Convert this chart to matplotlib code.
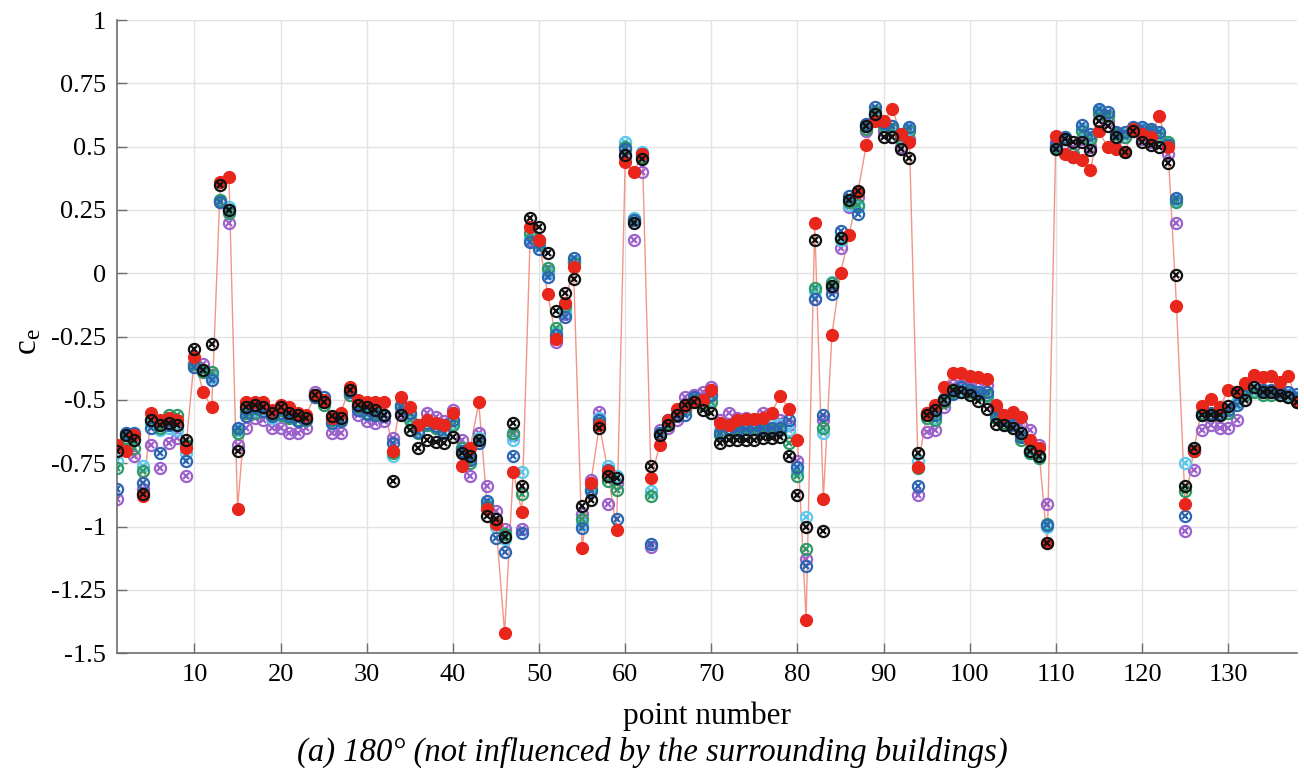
import matplotlib
matplotlib.use("Agg")
import matplotlib.pyplot as plt
import numpy as np

points = list(range(1, 139))

red = [-0.68,-0.70,-0.64,-0.88,-0.55,-0.58,-0.57,-0.58,-0.69,-0.33,
       -0.47,-0.53,0.36,0.38,-0.93,-0.51,-0.51,-0.51,-0.54,-0.52,
       -0.53,-0.55,-0.56,-0.48,-0.50,-0.57,-0.55,-0.45,-0.50,-0.51,
       -0.51,-0.51,-0.70,-0.49,-0.53,-0.60,-0.58,-0.59,-0.60,-0.55,
       -0.76,-0.69,-0.51,-0.93,-0.99,-1.42,-0.783,-0.943,0.182,0.13,
       -0.082,-0.26,-0.118,0.026,-1.083,-0.83,-0.60,-0.78,-1.013,0.44,
       0.40,0.47,-0.81,-0.68,-0.58,-0.537,-0.524,-0.507,-0.50,-0.46,
       -0.59,-0.60,-0.58,-0.575,-0.575,-0.57,-0.55,-0.483,-0.535,-0.658,
       -1.37,0.197,-0.89,-0.243,0.0,0.15,0.32,0.508,0.60,0.60,
       0.649,0.55,0.52,-0.766,-0.55,-0.52,-0.45,-0.395,-0.395,-0.404,
       -0.41,-0.418,-0.52,-0.56,-0.546,-0.567,-0.66,-0.69,-1.066,0.542,
       0.472,0.458,0.448,0.409,0.56,0.50,0.49,0.48,0.57,0.55,
       0.54,0.62,0.50,-0.128,-0.91,-0.70,-0.525,-0.497,-0.53,-0.462,
       -0.47,-0.434,-0.40,-0.41,-0.405,-0.43,-0.405,-0.51]

black = [-0.70,-0.64,-0.66,-0.87,-0.58,-0.60,-0.59,-0.60,-0.66,-0.30,
         -0.38,-0.28,0.35,0.25,-0.70,-0.53,-0.52,-0.53,-0.55,-0.53,
         -0.55,-0.56,-0.57,-0.48,-0.51,-0.565,-0.57,-0.46,-0.52,-0.53,
         -0.54,-0.56,-0.82,-0.56,-0.62,-0.69,-0.66,-0.665,-0.67,-0.645,
         -0.71,-0.72,-0.66,-0.96,-0.97,-1.04,-0.592,-0.84,0.217,0.184,
         0.079,-0.149,-0.076,-0.024,-0.92,-0.895,-0.612,-0.80,-0.81,0.467,
         0.20,0.45,-0.76,-0.64,-0.60,-0.56,-0.52,-0.51,-0.54,-0.55,
         -0.67,-0.66,-0.66,-0.66,-0.66,-0.65,-0.65,-0.647,-0.72,-0.877,
         -1.002,0.13,-1.016,-0.05,0.14,0.29,0.326,0.58,0.63,0.537,
         0.54,0.49,0.454,-0.71,-0.56,-0.54,-0.50,-0.46,-0.47,-0.48,
         -0.505,-0.535,-0.595,-0.60,-0.61,-0.63,-0.70,-0.72,-1.066,0.49,
         0.53,0.52,0.52,0.486,0.60,0.58,0.54,0.48,0.56,0.52,
         0.507,0.50,0.434,-0.006,-0.84,-0.69,-0.56,-0.56,-0.56,-0.525,
         -0.47,-0.50,-0.45,-0.47,-0.47,-0.48,-0.49,-0.51]

blue = [-0.85,-0.63,-0.63,-0.83,-0.61,-0.71,-0.60,-0.60,-0.74,-0.37,
        -0.38,-0.42,0.28,0.25,-0.61,-0.565,-0.53,-0.545,-0.565,-0.55,
        -0.565,-0.585,-0.575,-0.49,-0.49,-0.59,-0.585,-0.47,-0.54,-0.555,
        -0.56,-0.565,-0.67,-0.53,-0.55,-0.625,-0.59,-0.605,-0.63,-0.58,
        -0.70,-0.737,-0.67,-0.90,-1.046,-1.10,-0.72,-1.026,0.125,0.095,
        -0.013,-0.243,-0.171,0.059,-1.007,-0.86,-0.58,-0.776,-0.97,0.49,
        0.21,0.47,-1.07,-0.63,-0.58,-0.565,-0.56,-0.49,-0.50,-0.48,
        -0.63,-0.61,-0.62,-0.615,-0.615,-0.61,-0.61,-0.61,-0.58,-0.765,
        -1.155,-0.10,-0.56,-0.08,0.168,0.307,0.234,0.59,0.655,0.595,
        0.58,0.55,0.576,-0.84,-0.55,-0.56,-0.496,-0.476,-0.45,-0.46,
        -0.47,-0.47,-0.555,-0.58,-0.60,-0.645,-0.70,-0.72,-0.996,0.507,
        0.54,0.458,0.584,0.55,0.647,0.636,0.556,0.556,0.577,0.577,
        0.57,0.556,0.507,0.296,-0.96,-0.70,-0.56,-0.55,-0.55,-0.54,
        -0.52,-0.46,-0.45,-0.46,-0.46,-0.47,-0.47,-0.476]

green = [-0.77,-0.65,-0.69,-0.78,-0.58,-0.61,-0.56,-0.56,-0.68,-0.36,
         -0.39,-0.39,0.29,0.24,-0.63,-0.55,-0.55,-0.53,-0.56,-0.56,
         -0.57,-0.58,-0.58,-0.48,-0.52,-0.58,-0.58,-0.48,-0.53,-0.55,
         -0.55,-0.56,-0.71,-0.52,-0.58,-0.63,-0.60,-0.61,-0.63,-0.60,
         -0.69,-0.75,-0.66,-0.92,-0.987,-1.03,-0.63,-0.87,0.16,0.12,
         0.02,-0.217,-0.13,0.04,-0.97,-0.85,-0.59,-0.82,-0.855,0.50,
         0.21,0.46,-0.88,-0.64,-0.59,-0.56,-0.54,-0.50,-0.52,-0.51,
         -0.64,-0.62,-0.63,-0.63,-0.63,-0.62,-0.62,-0.62,-0.67,-0.80,
         -1.09,-0.06,-0.61,-0.04,0.14,0.28,0.27,0.57,0.64,0.58,
         0.57,0.53,0.56,-0.77,-0.57,-0.58,-0.51,-0.47,-0.47,-0.47,
         -0.48,-0.48,-0.57,-0.59,-0.61,-0.66,-0.71,-0.73,-0.99,0.50,
         0.53,0.47,0.56,0.53,0.63,0.62,0.55,0.54,0.57,0.56,
         0.56,0.54,0.52,0.28,-0.86,-0.70,-0.55,-0.56,-0.56,-0.55,
         -0.52,-0.48,-0.47,-0.48,-0.48,-0.48,-0.49,-0.50]

cyan = [-0.74,-0.66,-0.65,-0.76,-0.59,-0.62,-0.61,-0.62,-0.71,-0.37,
        -0.39,-0.41,0.29,0.26,-0.62,-0.54,-0.54,-0.54,-0.57,-0.55,
        -0.56,-0.58,-0.57,-0.49,-0.50,-0.59,-0.58,-0.47,-0.53,-0.54,
        -0.55,-0.56,-0.72,-0.52,-0.57,-0.62,-0.60,-0.61,-0.62,-0.59,
        -0.69,-0.73,-0.65,-0.91,-1.00,-1.05,-0.66,-0.783,0.14,0.11,
        0.0,-0.23,-0.15,0.05,-0.99,-0.84,-0.57,-0.76,-0.80,0.52,
        0.22,0.48,-0.86,-0.63,-0.58,-0.56,-0.54,-0.50,-0.51,-0.50,
        -0.62,-0.61,-0.61,-0.61,-0.61,-0.60,-0.60,-0.60,-0.62,-0.78,
        -0.963,-0.07,-0.63,-0.036,0.13,0.27,0.26,0.58,0.63,0.59,
        0.58,0.54,0.57,-0.74,-0.56,-0.57,-0.50,-0.46,-0.46,-0.48,
        -0.47,-0.49,-0.56,-0.60,-0.60,-0.64,-0.71,-0.72,-1.00,0.49,
        0.54,0.46,0.57,0.54,0.64,0.62,0.55,0.55,0.57,0.57,
        0.56,0.55,0.51,0.29,-0.75,-0.69,-0.56,-0.56,-0.55,-0.54,
        -0.51,-0.47,-0.46,-0.47,-0.47,-0.48,-0.48,-0.49]

purple = [-0.89,-0.66,-0.72,-0.85,-0.68,-0.77,-0.67,-0.65,-0.80,-0.36,
          -0.36,-0.40,0.28,0.20,-0.68,-0.61,-0.57,-0.58,-0.61,-0.61,
          -0.63,-0.63,-0.61,-0.47,-0.51,-0.63,-0.63,-0.48,-0.56,-0.585,
          -0.59,-0.585,-0.65,-0.55,-0.56,-0.60,-0.55,-0.566,-0.585,-0.54,
          -0.66,-0.80,-0.63,-0.84,-0.937,-1.01,-0.64,-1.01,0.13,0.13,
          0.01,-0.27,-0.16,0.045,-0.95,-0.816,-0.546,-0.91,-0.83,0.46,
          0.13,0.40,-1.08,-0.62,-0.61,-0.58,-0.49,-0.48,-0.47,-0.45,
          -0.58,-0.55,-0.57,-0.57,-0.58,-0.55,-0.555,-0.58,-0.60,-0.74,
          -1.13,-0.10,-0.58,-0.06,0.10,0.26,0.30,0.56,0.62,0.56,
          0.54,0.50,0.53,-0.877,-0.628,-0.62,-0.53,-0.44,-0.44,-0.44,
          -0.43,-0.44,-0.53,-0.57,-0.58,-0.60,-0.62,-0.68,-0.91,0.52,
          0.53,0.50,0.53,0.50,0.60,0.60,0.53,0.54,0.56,0.53,
          0.52,0.52,0.47,0.198,-1.017,-0.778,-0.62,-0.60,-0.61,-0.61,
          -0.58,-0.50,-0.46,-0.46,-0.47,-0.47,-0.48,-0.50]

xticks = [10, 20, 30, 40, 50, 60, 70, 80, 90, 100, 110, 120, 130]
yticks = [1, 0.75, 0.5, 0.25, 0, -0.25, -0.5, -0.75, -1, -1.25, -1.5]
ytick_labels = ["1", "0.75", "0.5", "0.25", "0", "-0.25", "-0.5", "-0.75", "-1", "-1.25", "-1.5"]

serif = ["Liberation Serif", "DejaVu Serif"]

fig = plt.figure(figsize=(13.04, 7.72), dpi=100)
ax = fig.add_axes([0.0897, 0.154, 0.905, 0.820])

ax.plot(points, red, color="#f29585", lw=1.0, zorder=1)

ms = 8
mew = 1.6
series = [
    (purple, "#9c62cc"),
    (cyan, "#5cc8ee"),
    (green, "#2e9a66"),
    (blue, "#2c66b2"),
]
z = 2
for vals, col in series:
    ax.plot(points, vals, ls="none", marker="o", mfc="none", mec=col, ms=ms, mew=mew, zorder=z)
    ax.plot(points, vals, ls="none", marker="x", color=col, ms=ms * 0.6, mew=mew, zorder=z + 0.1)
    z += 1
ax.plot(points, red, ls="none", marker="o", mfc="#e8261c", mec="#e8261c", ms=ms + 0.5, zorder=z)
z += 1
ax.plot(points, black, ls="none", marker="o", mfc="none", mec="#111111", ms=ms, mew=mew, zorder=z)
ax.plot(points, black, ls="none", marker="x", color="#111111", ms=ms * 0.6, mew=1.6, zorder=z + 0.1)

ax.set_xlim(1, 138)
ax.set_ylim(-1.5, 1)
ax.set_xticks(xticks)
ax.set_xticklabels([str(t) for t in xticks], fontsize=19, family=serif)
ax.set_yticks(yticks)
ax.set_yticklabels(ytick_labels, fontsize=19, family=serif)
ax.grid(True, color="#e3e3e3", lw=1.0)
ax.set_axisbelow(True)
for s in ["top", "right"]:
    ax.spines[s].set_visible(False)
for s in ["left", "bottom"]:
    ax.spines[s].set_color("#6e6e6e")
    ax.spines[s].set_linewidth(1.2)
ax.tick_params(direction="in", length=7, width=1.0, color="#6e6e6e", pad=8)

ax.set_xlabel("point number", fontsize=22.5, family=serif, labelpad=11)
ax.set_ylabel(r"$\mathregular{c_e}$", fontsize=24, family=serif)
ax.yaxis.set_label_coords((44 - 118) / (0.905 * 1304), (772 - 342 - 0.154 * 772) / (0.820 * 772))

fig.text(0.5, 1 - 752 / 772, "(a) 180° (not influenced by the surrounding buildings)",
         ha="center", va="center", fontsize=23.5, style="italic", family=serif)

fig.savefig("out.png", dpi=100)
